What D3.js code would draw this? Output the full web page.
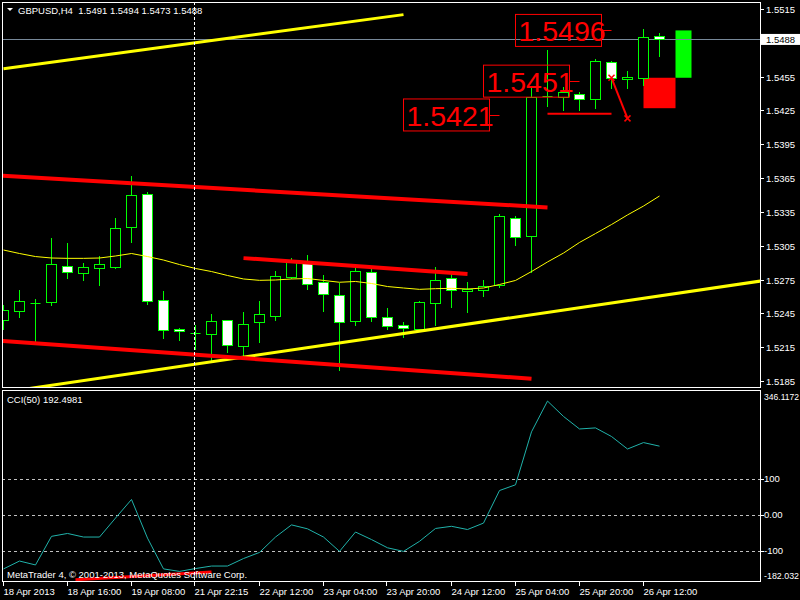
<!DOCTYPE html>
<html><head><meta charset="utf-8">
<script src="https://cdn.jsdelivr.net/npm/d3@7"></script>
<style>html,body{margin:0;padding:0;background:#000;overflow:hidden}svg{display:block}text{white-space:pre}</style>
</head><body>
<svg id="c" width="800" height="600"></svg>
<script>
// ---------- data ----------
const titleText = "GBPUSD,H4  1.5491 1.5494 1.5473 1.5488";
const cciTitle = "CCI(50) 192.4981";
const copyright = "MetaTrader 4, \u00A9 2001-2013, MetaQuotes Software Corp.";

const opens  = [1.5239,1.5247,1.5254,1.5255,1.5287,1.5281,1.5285,1.5286,1.5322,1.5351,1.5257,1.5231,1.5228,1.5227,1.5239,1.5216,1.5237,1.5243,1.5277,1.5291,1.5273,1.5261,1.5238,1.5282,1.5242,1.5235,1.5231,1.5254,1.5276,1.5265,1.5266,1.5270,1.5330,1.5314,1.5438,1.5437,1.5440,1.5435,1.5468,1.5453,1.5454,1.5491];
const highs  = [1.5252,1.5266,1.5258,1.5312,1.5307,1.5290,1.5296,1.5330,1.5367,1.5353,1.5265,1.5232,1.5235,1.5244,1.5239,1.5246,1.5256,1.5283,1.5294,1.5297,1.5279,1.5272,1.5286,1.5284,1.5250,1.5237,1.5256,1.5286,1.5280,1.5273,1.5275,1.5333,1.5331,1.5447,1.5479,1.5446,1.5441,1.5471,1.5469,1.5460,1.5497,1.5494];
const lows   = [1.5231,1.5242,1.5219,1.5252,1.5276,1.5275,1.5270,1.5285,1.5308,1.5253,1.5223,1.5221,1.5213,1.5204,1.5211,1.5208,1.5220,1.5239,1.5276,1.5267,1.5247,1.5195,1.5235,1.5238,1.5231,1.5224,1.5230,1.5235,1.5251,1.5246,1.5260,1.5268,1.5306,1.5282,1.5429,1.5425,1.5425,1.5427,1.5445,1.5445,1.5448,1.5473];
const closes = [1.5248,1.5256,1.5254,1.5289,1.5282,1.5286,1.5289,1.5321,1.5350,1.5256,1.5230,1.5229,1.5228,1.5238,1.5217,1.5236,1.5244,1.5278,1.5292,1.5271,1.5262,1.5237,1.5283,1.5242,1.5234,1.5232,1.5255,1.5275,1.5266,1.5267,1.5269,1.5331,1.5313,1.5437,1.5438,1.5441,1.5435,1.5469,1.5454,1.5455,1.5490,1.5488];
const maValues = [1.53012,1.52981,1.52954,1.52941,1.52938,1.52938,1.52941,1.52959,1.52981,1.52954,1.52923,1.52883,1.52848,1.52821,1.52786,1.52755,1.52743,1.52746,1.52755,1.52759,1.52742,1.52726,1.52733,1.52715,1.52688,1.52675,1.52663,1.52669,1.52672,1.52666,1.52675,1.52706,1.52742,1.52821,1.52906,1.52985,1.53079,1.53158,1.53238,1.53323,1.53402,1.53491];
const cciValues = [-151,-129,-140,-60,-52,-62,-62,-9,43,-65,-151,-158,-150,-143,-143,-122,-105,-62,-28,-39,-62,-102,-48,-69,-92,-102,-74,-38,-32,-41,-23,68,84,232,318,275,240,243,219,184,202,192];

const priceTicks = [1.5515,1.5485,1.5455,1.5425,1.5395,1.5365,1.5335,1.5305,1.5275,1.5245,1.5215,1.5185];
const bidPrice = 1.5488;
const timeLabels = ["18 Apr 2013","18 Apr 16:00","19 Apr 08:00","21 Apr 22:15","22 Apr 12:00","23 Apr 04:00","23 Apr 20:00","24 Apr 12:00","25 Apr 04:00","25 Apr 20:00","26 Apr 12:00"];
const timeLabelBars = [0,4,8,12,16,20,24,28,32,36,40];
const cursorBar = 12;
const cciLevels = [100,0,-100];
const cciAxis = [[346.1172,"346.1172"],[100,"100"],[0,"0.00"],[-100,"-100"],[-182.032,"-182.032"]];
const cciRange = [-182.032, 346.1172];
const priceRange = [1.5185, 1.5515];

// objects on chart (bar index, price)
const yellowLines = [[0,1.5462,25,1.5510,false],[12,1.5200,41,1.52605,true]];
const redLines = [[-1,1.53678,34,1.5339],[-1,1.52215,33,1.5187],[15,1.5294,29,1.5280]];
const redFlat = [34,38,1.5422];
const redArrow = [38,1.5454,39,1.5418];
const priceLabels = [["1.5421",1.5421,31],["1.5451",1.5451,36],["1.5496",1.5496,38]];
const redBox = [40,42,1.5427,1.5454];
const greenBox = [42,43,1.5454,1.5496];
const cciRedLine = [4.5,-181,13,-160];

// ---------- layout ----------
const svg = d3.select("#c");
const L = 2, R = 760, T = 2, MB = 388, CT = 390, CB = 582;
const x = d3.scaleLinear().domain([0,41]).range([3.5,659.5]);
const y = d3.scaleLinear().domain(priceRange).range([381,9]);
const yc = d3.scaleLinear().domain(cciRange).range([580,391]);
const FONT = "'Liberation Sans', Arial, sans-serif";
const px = v => Math.round(v) + 0.5;

svg.append("rect").attr("width",800).attr("height",600).attr("fill","#000");
const defs = svg.append("defs");
defs.append("clipPath").attr("id","cm").append("rect").attr("x",L+1).attr("y",T+1).attr("width",R-L-1).attr("height",MB-T-1);
defs.append("clipPath").attr("id","cc").append("rect").attr("x",L+1).attr("y",CT+1).attr("width",R-L-1).attr("height",CB-CT-1);

const gm = svg.append("g").attr("clip-path","url(#cm)");
const gc = svg.append("g").attr("clip-path","url(#cc)");

// boxes (background objects)
gm.append("rect").attr("x",x(redBox[0])).attr("width",x(redBox[1])-x(redBox[0]))
  .attr("y",y(redBox[3])).attr("height",y(redBox[2])-y(redBox[3])).attr("fill","#ff0000");
gm.append("rect").attr("x",x(greenBox[0])).attr("width",x(greenBox[1])-x(greenBox[0]))
  .attr("y",y(greenBox[3])).attr("height",y(greenBox[2])-y(greenBox[3])).attr("fill","#00ff00");

// bid line
gm.append("line").attr("x1",L).attr("x2",R).attr("y1",px(y(bidPrice))).attr("y2",px(y(bidPrice)))
  .attr("stroke","#778899").attr("stroke-width",1);

// candles
const idx = d3.range(opens.length);
const cg = gm.append("g");
idx.forEach(i => {
  const xc = x(i);
  cg.append("line").attr("x1",xc).attr("x2",xc).attr("y1",Math.round(y(highs[i]))).attr("y2",Math.round(y(lows[i]))+1)
    .attr("stroke","#00ff00").attr("stroke-width",1);
  const top = px(y(Math.max(opens[i],closes[i])));
  const bot = px(y(Math.min(opens[i],closes[i])));
  if (bot - top < 0.5) {
    cg.append("line").attr("x1",xc-5).attr("x2",xc+5).attr("y1",top).attr("y2",top)
      .attr("stroke","#00ff00").attr("stroke-width",1);
  } else {
    cg.append("rect").attr("x",xc-5).attr("y",top).attr("width",10).attr("height",bot-top)
      .attr("fill", closes[i] >= opens[i] ? "#000" : "#fff").attr("stroke","#00ff00").attr("stroke-width",1);
  }
});

// moving average
gm.append("path").datum(maValues)
  .attr("d", d3.line().x((d,i)=>x(i)).y(d=>y(d)))
  .attr("fill","none").attr("stroke","#ffff00").attr("stroke-width",1);

// trend lines
yellowLines.forEach(([b1,p1,b2,p2,ray]) => {
  let xa=b1,pa=p1,xb=b2,pb=p2;
  if (ray) { const s=(p2-p1)/(b2-b1); xa=-5; pa=p1+s*(xa-b1); xb=50; pb=p1+s*(xb-b1); }
  gm.append("line").attr("x1",x(xa)).attr("y1",y(pa)).attr("x2",x(xb)).attr("y2",y(pb))
    .attr("stroke","#ffff00").attr("stroke-width",3);
});
redLines.forEach(([b1,p1,b2,p2]) => {
  gm.append("line").attr("x1",x(b1)).attr("y1",y(p1)).attr("x2",x(b2)).attr("y2",y(p2))
    .attr("stroke","#ff0000").attr("stroke-width",4);
});
gm.append("line").attr("x1",x(redFlat[0])).attr("x2",x(redFlat[1])).attr("y1",y(redFlat[2])).attr("y2",y(redFlat[2]))
  .attr("stroke","#ff0000").attr("stroke-width",2);
gm.append("line").attr("x1",x(redArrow[0])).attr("y1",y(redArrow[1])).attr("x2",x(redArrow[2])).attr("y2",y(redArrow[3]))
  .attr("stroke","#ff0000").attr("stroke-width",2);
[[redArrow[0],redArrow[1]],[redArrow[2],redArrow[3]]].forEach(([b,p])=>{
  const cx=x(b), cy=y(p);
  gm.append("path").attr("d",`M${cx-3},${cy-3}L${cx+3},${cy+3}M${cx+3},${cy-3}L${cx-3},${cy+3}`)
    .attr("stroke","#ff0000").attr("stroke-width",1.5).attr("fill","none");
});

// price label boxes
priceLabels.forEach(([t,p,b]) => {
  const right = x(b) - 10, cy = y(p);
  gm.append("line").attr("x1",right).attr("x2",x(b)).attr("y1",px(cy)).attr("y2",px(cy)).attr("stroke","#ff0000").attr("stroke-width",1);
  gm.append("rect").attr("x",right-86).attr("y",cy-16).attr("width",86).attr("height",32)
    .attr("fill","none").attr("stroke","#ff0000").attr("stroke-width",1);
  gm.append("text").attr("x",right-83).attr("y",cy+11).attr("fill","#ff0000")
    .attr("font-family",FONT).attr("font-size",28.5).text(t);
});

// CCI panel
cciLevels.forEach(v => {
  gc.append("line").attr("x1",L).attr("x2",R).attr("y1",px(yc(v))).attr("y2",px(yc(v)))
    .attr("stroke","#c0c0c0").attr("stroke-dasharray","3,3");
});
gc.append("path").datum(cciValues)
  .attr("d", d3.line().x((d,i)=>x(i)).y(d=>yc(d)))
  .attr("fill","none").attr("stroke","#20b2aa").attr("stroke-width",1);
gc.append("line").attr("x1",x(cciRedLine[0])).attr("y1",yc(cciRedLine[1])).attr("x2",x(cciRedLine[2])).attr("y2",yc(cciRedLine[3]))
  .attr("stroke","#ff0000").attr("stroke-width",3);

// cursor dashed vertical
svg.append("line").attr("x1",px(x(cursorBar))-1).attr("x2",px(x(cursorBar))-1).attr("y1",T).attr("y2",CB)
  .attr("stroke","#fff").attr("stroke-dasharray","3,2");

// frames
svg.append("rect").attr("x",L+0.5).attr("y",T+0.5).attr("width",R-L).attr("height",MB-T-1)
  .attr("fill","none").attr("stroke","#fff");
svg.append("rect").attr("x",L+0.5).attr("y",CT+0.5).attr("width",R-L).attr("height",CB-CT-1)
  .attr("fill","none").attr("stroke","#fff");

// right price axis
const ax = svg.append("g").attr("font-family",FONT).attr("font-size",9.5).attr("fill","#fff");
const bidY = y(bidPrice);
priceTicks.forEach(p => {
  const yy = px(y(p));
  ax.append("line").attr("x1",R+1).attr("x2",R+4).attr("y1",yy).attr("y2",yy).attr("stroke","#fff");
  if (Math.abs(y(p) - bidY) > 10) // label hidden behind the bid box, as in MT4
    ax.append("text").attr("x",766).attr("y",yy).attr("dy","0.35em").text(p.toFixed(4));
});
// bid label
ax.append("rect").attr("x",R+1).attr("y",bidY-5.5).attr("width",39).attr("height",11).attr("fill","#fff");
ax.append("text").attr("x",766).attr("y",bidY).attr("dy","0.35em").attr("fill","#000").text(bidPrice.toFixed(4));

// CCI axis
cciAxis.forEach(([v,t],i) => {
  let yy = yc(v);
  const edge = (i===0 || i===cciAxis.length-1);
  if (i===0) yy += 6; if (i===cciAxis.length-1) yy -= 4.5;
  if (!edge) ax.append("line").attr("x1",R+1).attr("x2",R+4).attr("y1",px(yc(v))).attr("y2",px(yc(v))).attr("stroke","#fff");
  const tx = ax.append("text").attr("x",764).attr("y",yy).attr("dy","0.35em").text(t);
  if (edge) tx.attr("textLength",35).attr("lengthAdjust","spacingAndGlyphs");
});

// time axis
timeLabelBars.forEach((b,i) => {
  const xx = px(x(b)) - 1;
  ax.append("line").attr("x1",xx).attr("x2",xx).attr("y1",CB).attr("y2",CB+4).attr("stroke","#fff");
  ax.append("text").attr("x",xx).attr("y",595).text(timeLabels[i]);
});

// titles
svg.append("path").attr("d","M7,8L13,8L10,11Z").attr("fill","#fff");
svg.append("text").attr("x",18).attr("y",14).attr("font-family",FONT).attr("font-size",9.5).attr("fill","#fff").text(titleText);
svg.append("text").attr("x",7).attr("y",403).attr("font-family",FONT).attr("font-size",9.5).attr("fill","#fff").text(cciTitle);
svg.append("text").attr("x",7).attr("y",578).attr("font-family",FONT).attr("font-size",9.5).attr("fill","#fff").text(copyright);
</script>
</body></html>
